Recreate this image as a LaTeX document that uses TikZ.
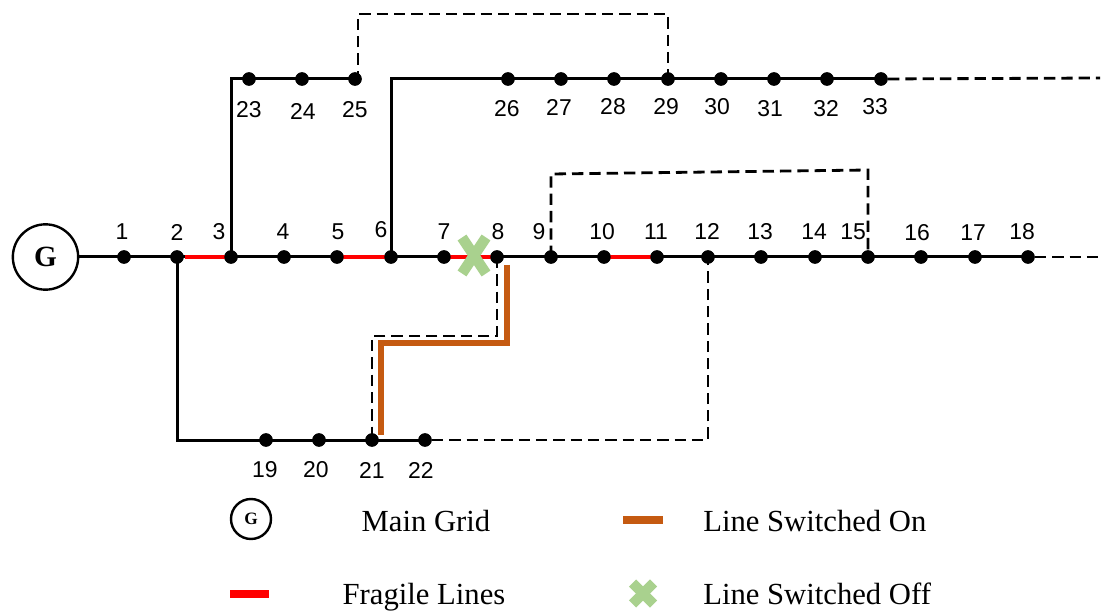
\documentclass[tikz,border=0pt]{standalone}
\usepackage{fontspec}
\setmainfont{Liberation Serif}
\newfontfamily\numfont{Liberation Sans}
\definecolor{swon}{HTML}{C55A11}
\definecolor{swoff}{HTML}{A9D18E}
\begin{document}
\begin{tikzpicture}[x=0.75pt,y=-0.75pt,
  bus/.style={circle,fill=black,inner sep=0pt,minimum size=10pt},
  num/.style={font=\numfont\fontsize{17.2}{19}\selectfont,inner sep=0pt},
  legtext/.style={font=\fontsize{23}{26}\selectfont,inner sep=0pt,anchor=base},
  solidline/.style={line width=2.25pt,black},
  dashline/.style={line width=2.1pt,black,dash pattern=on 8.5pt off 4.5pt},
  fragile/.style={line width=3.2pt,red},
  onpath/.style={line width=4.6pt,swon},
  grid/.style={circle,draw=black,line width=1.8pt,fill=white,inner sep=0pt},
  offmark/.style={line width=8pt,swoff}]
\useasboundingbox (0,0) rectangle (1108,613);
% buses
\foreach \n/\x in {1/124,2/177,3/231,4/284,5/337,6/391,7/444,8/497,9/551,10/604,11/657,12/708,13/761,14/815,15/868,16/921,17/975,18/1028}
  \node[bus] (b\n) at (\x,257) {};
\foreach \n/\x in {23/249,24/302,25/355,26/508,27/561,28/614,29/668,30/721,31/774,32/827,33/881}
  \node[bus] (b\n) at (\x,79) {};
\foreach \n/\x in {19/266,20/319,21/372,22/425}
  \node[bus] (b\n) at (\x,440) {};
\node[grid,minimum size=49pt,font=\bfseries\fontsize{22}{24}\selectfont] (G) at (45.5,257) {G};
% corners and free ends
\coordinate (c3) at (231,79);
\coordinate (c6) at (391,79);
\coordinate (c2) at (177,440);
\coordinate (d25) at (358,79);
\coordinate (d25a) at (358,14);
\coordinate (d29a) at (668,14);
\coordinate (d9a) at (551,174);
\coordinate (d15a) at (868,170);
\coordinate (d12a) at (708,440);
\coordinate (d8a) at (497,336);
\coordinate (d21a) at (372,336);
\coordinate (end33) at (1100,78);
\coordinate (end18) at (1100,257);
\coordinate (on1) at (507,265);
\coordinate (on2) at (507,343);
\coordinate (on3) at (381,343);
\coordinate (on4) at (381,435);
\coordinate (r1) at (185,257);
\coordinate (r2) at (226,257);
\coordinate (r3) at (343,257);
\coordinate (r4) at (385,257);
\coordinate (r5) at (450,257);
\coordinate (r6) at (491,257);
\coordinate (r7) at (610,257);
\coordinate (r8) at (652,257);
% network
\draw[solidline] (G) -- (b18.center);
\draw[solidline] (b3.center) -- (c3) -- (b25.center);
\draw[solidline] (b6.center) -- (c6) -- (b33.center);
\draw[solidline] (b2.center) -- (c2) -- (b22.center);
\draw[dashline] (b25.center) -- (d25) -- (d25a) -- (d29a) -- (b29.center);
\draw[dashline] (b33) -- (end33);
\draw[dashline] (b18) -- (end18);
\draw[dashline] (b9.center) -- (d9a) -- (d15a) -- (b15.center);
\draw[dashline] (b22) -- (d12a) -- (b12.center);
\draw[dashline] (b8.center) -- (d8a) -- (d21a) -- (b21.center);
\draw[fragile] (r1) -- (r2);
\draw[fragile] (r3) -- (r4);
\draw[fragile] (r5) -- (r6);
\draw[fragile] (r7) -- (r8);
% buses on top of the lines
\foreach \n in {1,...,33} \fill (b\n) circle (5pt);
\draw[onpath] (on1) -- (on2) -- (on3) -- (on4);
\coordinate (x1) at (462,237.5);
\coordinate (x2) at (486,273.5);
\coordinate (x3) at (462,273.5);
\coordinate (x4) at (486,237.5);
\draw[offmark] (x1) -- (x2);
\draw[offmark] (x3) -- (x4);
% labels
\foreach \n/\x/\y in {1/122/232,2/177/232,3/219/232,4/283/232,5/338/232,6/381/230,7/444/232,8/498/232,9/539/232,10/602/232,11/656/232,12/707/231,13/760/232,14/814/232,15/853/232,16/917/233,17/973/233,18/1022/232,
  23/249/110,24/303/111,25/355/110,26/507/109,27/559/107,28/613/107,29/666/107,30/717/107,31/770/109,32/826/109,33/875/107,
  19/265/470,20/316/470,21/372/470,22/421/470}
  \node[num] (l\n) at (\x,\y) {\n};
% legend
\node[grid,minimum size=30pt,font=\bfseries\fontsize{13}{14}\selectfont] (lgG) at (251,519) {G};
\node[legtext] (lgGt) at (426,531) {Main Grid};
\coordinate (lo1) at (623,520);
\coordinate (lo2) at (663,520);
\draw[line width=6pt,swon] (lo1) -- (lo2);
\node[legtext,anchor=base west] (lgOn) at (703,531) {Line Switched On};
\coordinate (lr1) at (230,594);
\coordinate (lr2) at (269,594);
\draw[line width=6pt,red] (lr1) -- (lr2);
\node[legtext] (lgFr) at (424,604) {Fragile Lines};
\coordinate (lx1) at (632.5,583);
\coordinate (lx2) at (653.5,604);
\coordinate (lx3) at (632.5,604);
\coordinate (lx4) at (653.5,583);
\draw[line width=7.5pt,swoff] (lx1) -- (lx2);
\draw[line width=7.5pt,swoff] (lx3) -- (lx4);
\node[legtext,anchor=base west] (lgOff) at (703,604) {Line Switched Off};
\end{tikzpicture}
\end{document}
